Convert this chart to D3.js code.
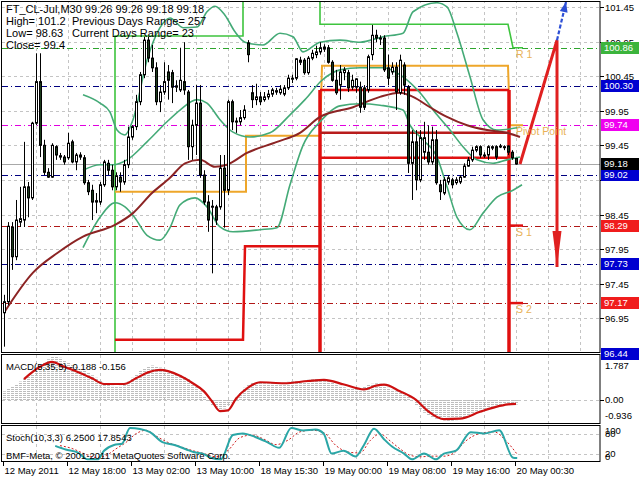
<!DOCTYPE html>
<html><head><meta charset="utf-8">
<script src="https://cdn.jsdelivr.net/npm/d3@7"></script>
<style>body{margin:0;background:#fff}svg{display:block;font-family:"Liberation Sans",Arial,sans-serif}</style>
</head><body><svg id="c" width="640" height="480"></svg>
<script>
// ---------- DATA ----------
const opens=[97.03,97.19,98.27,97.84,98.34,98.37,98.85,98.69,99.77,100.37,
99.45,99.06,98.99,99.43,99.28,99.28,99.27,99.50,99.21,99.28,
99.27,98.91,98.80,98.63,98.63,98.88,99.19,99.09,98.85,98.99,
98.92,99.17,99.57,99.72,100.08,100.47,100.97,100.71,100.57,100.08,
100.22,100.51,100.50,100.29,100.25,100.37,100.22,99.43,99.74,100.06,
99.02,98.63,98.56,98.56,98.56,99.12,98.80,100.08,99.79,99.79,
99.85,100.93,100.21,100.11,100.15,100.11,100.15,100.19,100.22,100.21,
100.19,100.28,100.41,100.42,100.65,100.68,100.50,100.71,100.76,100.80,
100.84,100.86,100.65,100.39,100.32,100.50,100.50,100.29,100.29,100.29,
100.28,100.25,100.76,101.04,101.00,101.00,100.57,100.51,100.58,100.21,
100.61,100.29,99.19,99.50,98.95,99.35,99.35,99.21,99.53,98.88,
98.76,98.92,98.95,98.91,98.92,98.99,99.15,99.24,99.38,99.43,
99.31,99.31,99.41,99.43,99.44,99.43,99.44,99.35,99.26];
const closes=[97.19,98.28,97.84,98.37,98.39,98.85,98.69,99.77,100.37,99.45,
99.06,98.99,99.45,99.31,99.30,99.21,99.48,99.21,99.31,99.31,
98.91,98.78,98.63,98.65,98.88,99.21,99.09,98.85,99.01,98.92,
99.17,99.57,99.72,100.08,100.47,100.97,100.71,100.57,100.08,100.22,
100.37,100.39,100.29,100.31,100.39,100.25,99.43,99.74,100.06,99.02,
98.63,98.37,98.57,98.37,99.12,98.80,100.08,99.79,99.80,99.85,
99.96,100.76,100.11,100.15,100.08,100.15,100.19,100.25,100.24,100.26,
100.28,100.42,100.42,100.70,100.68,100.50,100.71,100.78,100.80,100.86,
100.87,100.65,100.39,100.21,100.51,100.54,100.28,100.39,100.41,100.00,
100.00,100.73,101.04,101.00,101.00,100.54,100.42,100.58,100.22,100.68,
100.32,99.19,99.50,98.95,99.56,99.56,99.21,99.53,98.91,98.78,
98.95,98.98,98.88,98.95,98.99,99.15,99.24,99.38,99.43,99.31,
99.31,99.43,99.43,99.28,99.44,99.43,99.35,99.27,99.18];
const highs=[97.29,98.34,98.34,98.66,98.85,99.50,98.92,99.79,100.78,100.78,
99.53,99.12,99.48,99.45,99.34,99.31,99.63,99.53,99.34,99.35,
99.31,98.95,98.88,98.76,98.92,99.24,99.24,99.17,99.06,99.06,
99.24,99.72,99.74,100.18,100.51,101.02,101.02,100.90,100.65,100.32,
100.65,100.61,100.54,100.39,100.86,100.94,100.25,99.82,100.32,100.32,
99.09,98.73,98.66,98.59,99.31,99.31,100.11,100.11,99.85,99.96,
100.03,100.97,100.32,100.34,100.22,100.22,100.25,100.28,100.28,100.32,
100.32,100.47,100.47,100.71,100.73,100.71,100.74,100.83,100.89,100.94,
100.91,100.90,100.68,100.54,100.61,100.58,100.54,100.47,100.42,100.37,
100.32,100.76,101.19,101.12,101.04,101.04,100.76,100.65,100.65,100.76,
100.65,100.32,99.67,99.67,99.67,99.79,99.74,99.72,99.67,98.95,
98.99,99.02,98.98,98.99,99.02,99.19,99.28,99.43,99.45,99.45,
99.35,99.45,99.45,99.45,99.47,99.45,99.45,99.38,99.26];
const lows=[96.54,97.14,97.65,97.79,98.27,98.27,98.41,98.66,99.74,99.28,
99.02,98.98,98.98,99.24,99.24,99.17,99.24,99.19,99.09,99.24,
98.88,98.73,98.37,98.47,98.59,98.85,99.02,98.80,98.80,98.78,
98.88,99.12,99.53,99.67,100.03,100.42,100.65,100.51,100.03,99.93,
100.18,100.11,100.06,100.22,100.22,100.18,99.24,99.24,99.31,98.98,
98.59,98.20,97.60,98.30,98.52,98.26,98.73,99.67,99.63,99.74,
99.82,100.65,99.99,100.03,100.03,100.08,100.11,100.15,100.18,100.18,
100.16,100.25,100.35,100.39,100.61,100.47,100.47,100.68,100.71,100.76,
100.80,100.63,100.37,100.18,100.11,100.39,100.22,100.25,100.21,99.92,
99.96,100.21,100.68,100.94,100.90,100.51,100.32,100.47,99.96,100.18,
100.18,99.05,98.66,98.80,98.92,99.24,99.17,99.17,98.88,98.66,
98.73,98.88,98.83,98.88,98.89,98.98,99.14,99.21,99.35,99.27,
99.27,99.24,99.38,99.24,99.41,99.38,99.31,99.24,99.17];

// indicator lines as [bar index, price]
const maLine=[[0,97.03],[7.25,97.61],[13.25,97.89],[19.75,98.13],[27.75,98.30],[32.25,98.47],[37,98.76],[41.5,98.98],[45.25,99.19],[49,99.24],[52.75,99.14],[55.75,99.17],[60.75,99.34],[68.25,99.50],[74,99.63],[79,99.86],[87.25,100.00],[94,100.15],[99,100.21],[102.25,100.15],[106.5,100.00],[110.75,99.86],[115.75,99.74],[120.75,99.67],[125.75,99.63],[129,99.57]];
const bbUpper=[[19.75,100.18],[24,100.06],[26.5,99.93],[28.25,99.67],[30.25,99.6],[32.25,99.82],[35.75,100.68],[39,101.15],[41.5,101.29],[44.75,101.15],[48.25,101.16],[50.75,101.38],[52.75,101.46],[55.25,101.33],[57.75,101.09],[60.25,100.94],[64.75,100.90],[69,101.07],[72.25,101.02],[74.75,100.80],[79,100.94],[84,100.97],[89,100.94],[94.75,101.02],[99.75,101.07],[102.25,101.38],[108.25,101.51],[110.75,101.45],[113.25,101.07],[116.5,100.44],[119.75,99.82],[123.25,99.67],[129,99.71]];
const bbMiddle=[[19.75,99.09],[24,99.17],[27.25,99.17],[30.75,99.24],[35.75,99.50],[40.75,99.79],[44,99.96],[48.25,100.11],[50.75,100.06],[54,99.82],[57.25,99.64],[61.5,99.57],[66.5,99.63],[71.5,99.89],[75.25,100.11],[79.5,100.39],[84,100.54],[89,100.57],[94.75,100.57],[99.75,100.44],[104,100.21],[108.25,99.89],[111.5,99.67],[114.75,99.43],[118.25,99.24],[122.25,99.19],[125.75,99.24],[129,99.28]];
const bbLower=[[19.75,97.97],[24,98.41],[27.75,98.62],[30.25,98.56],[32.75,98.40],[35.75,98.15],[39,98.08],[41.5,98.26],[44,98.59],[47.75,98.69],[50.75,98.56],[54,98.27],[57.25,98.20],[64,98.23],[68.25,98.26],[71.5,98.88],[74.75,99.45],[79,99.79],[84,100.02],[89,100.05],[94,100.03],[99.75,99.96],[101.5,99.74],[104.75,99.53],[108.25,99.28],[110.75,98.85],[113.25,98.41],[116.5,98.23],[119.75,98.47],[123.25,98.70],[127.25,98.80],[129.5,98.88]];

// daily step lines [bar index, price]
const dayHighSteps=[[27.75,96.0],[27.75,101.03],[59.75,101.03],[59.75,101.9],[79,101.9],[79,101.2],[126,101.2],[127.25,100.86],[129.75,100.86]];
const pivotSteps=[[27.75,98.78],[60.5,98.78],[60.5,99.59],[79,99.59],[79.5,100.60],[126,100.60],[126.5,99.74],[129.75,99.74]];
const lowSteps=[[27.75,96.64],[59.75,96.64],[60.25,97.99],[79,97.99]];
const redVerticals=[[79,96.2,100.25],[126.25,100.25,96.2]];
const redHoriz=[[79,126.25,100.25],[79,126.25,99.63],[79,126.25,99.27],[126.5,129.75,98.29],[126.5,129.75,97.17]];

// projection arrows
const redProjection=[[129,99.18],[138.25,100.97],[138.25,97.69]];
const blueProjection=[[138.25,100.97],[140.5,101.52]];

// levels
const levelPrices=[100.86,100.30,99.74,99.02,98.29,97.73,97.17,96.44];
const currentPrice=99.18;
const priceTicks=[101.45,100.95,100.45,99.95,99.45,98.95,98.45,97.95,97.45,96.95];
const levelTexts=[["R 1",100.86],["Pivot Point",99.74],["S 1",98.29],["S 2",97.17]];

// MACD
const macdHist=[0.35,0.45,0.55,0.65,0.75,0.85,0.95,1.05,1.2,1.35,1.5,1.65,1.75,
1.78,1.72,1.6,1.5,1.42,1.35,1.28,1.2,
1.1,1.0,0.9,0.8,0.7,0.62,0.58,0.56,0.58,0.62,
0.75,0.9,1.05,1.18,1.3,1.37,1.4,1.38,1.32,1.25,
1.18,1.12,1.06,1.0,0.95,0.85,0.72,0.55,0.35,0.15,
-0.05,-0.2,-0.32,-0.38,-0.35,-0.25,-0.1,0.1,0.3,0.5,
0.65,0.7,0.7,0.7,0.68,0.68,0.7,0.7,0.72,0.72,
0.74,0.76,0.78,0.8,0.8,0.82,0.84,0.85,0.85,0.84,
0.8,0.74,0.66,0.58,0.52,0.48,0.46,0.46,0.48,0.55,
0.62,0.66,0.68,0.66,0.6,0.5,0.42,0.35,0.28,0.2,
0.12,0.0,-0.2,-0.38,-0.52,-0.62,-0.7,-0.76,-0.8,-0.82,
-0.84,-0.84,-0.82,-0.78,-0.72,-0.65,-0.57,-0.5,-0.43,-0.37,
-0.32,-0.28,-0.25,-0.22,-0.2,-0.19,-0.19,-0.188];
const macdSignal=[[5,0.85],[9,1.35],[12,1.55],[15,1.35],[19,1.1],[22,0.88],[25,0.65],[30,0.65],[33,0.88],[36,1.12],[39,1.22],[41,1.17],[44,0.98],[47,0.7],[50,0.35],[52,-0.05],[54,-0.45],[56,-0.42],[58,0.05],[61,0.5],[64,0.72],[70,0.68],[76,0.77],[80,0.82],[85,0.63],[90,0.43],[93,0.58],[95,0.62],[99,0.35],[103,0.0],[106,-0.45],[110,-0.78],[114,-0.76],[119,-0.48],[123,-0.28],[126,-0.18],[128,-0.156]];
const macdTicks=[1.787,0.00,-0.936];

// Stochastic
const stochMain=[[12.8,44],[15.4,33],[18.4,24],[20.9,2],[23.4,2],[25,29],[27.5,47],[29.5,51],[31.5,100],[34,97],[36.5,87],[39.6,56],[42.6,47],[45.6,33],[47.6,24],[49.7,20],[51.7,7],[54.2,2],[57.2,78],[59.7,83],[62.8,72],[65.8,56],[68.8,38],[71.8,100],[74.8,92],[77.9,95],[79.9,83],[81.9,20],[84.9,29],[87.9,11],[90,47],[92.5,98],[95,65],[97,42],[100,20],[102,2],[105,20],[108,2],[110,20],[113,29],[116.7,87],[120,83],[123.8,93],[127.3,7],[128.3,6.25]];
const stochSignal=[[14,45],[17,36],[20,20],[23,8],[25.5,14],[28,35],[30.5,55],[33,82],[35.5,93],[38,75],[41,55],[44,42],[47,30],[50,20],[53,10],[56,30],[59,70],[62,78],[65,65],[68,48],[71,62],[74,88],[77,93],[80,85],[83,45],[86,25],[89,22],[91.5,60],[94,82],[96.5,60],[99,35],[101.5,15],[104,10],[107,12],[110,12],[112.5,22],[115.5,60],[119,83],[122.5,88],[125.5,60],[128.3,17.85]];
const stochTicks=[100,80,20,0];

// time axis
const timeLabels=["12 May 2011","12 May 18:00","13 May 02:00","13 May 10:00","18 May 15:30","19 May 00:00","19 May 08:00","19 May 16:00","20 May 00:30"];
const timeIdx=[0,16,32,48,64,80,96,112,128];

const headerLines=[["FT_CL-Jul,M30  99.26 99.26 99.18 99.18",""],["High= 101.2","Previous Days Range= 257"],["Low= 98.63","Current Days Range= 23"],["Close= 99.4",""]];

// ---------- STYLES ----------
const levelLineColor=["#2ea52e","#000080","#e000e0","#000080","#b01818","#000080","#b01818","#000080"];
const levelBoxColor=["#3cb43c","#0000d0","#f000f0","#0000d0","#f01c1c","#0000d0","#f01c1c","#0000d0"];

// ---------- DRAW ----------
const svg=d3.select("#c");
const x=d3.scaleLinear().domain([0,1]).range([4,8]);
const y=d3.scaleLinear().domain([96.44,101.55]).range([353.6,0]);
const yM=d3.scaleLinear().domain([-0.936,1.787]).range([423,356]);
const yS=d3.scaleLinear().domain([0,100]).range([460,428]);
const R=600;

const defs=svg.append("defs");
[["cm",2,2,598,350],["cd",2,355,598,69],["cs",2,426,598,36]].forEach(c=>{
  defs.append("clipPath").attr("id",c[0]).append("rect").attr("x",c[1]).attr("y",c[2]).attr("width",c[3]).attr("height",c[4]);
});
const gm=svg.append("g").attr("clip-path","url(#cm)");
const gd=svg.append("g").attr("clip-path","url(#cd)");
const gs=svg.append("g").attr("clip-path","url(#cs)");

// grid main
const gridIdx=d3.range(8,150,8);
gm.selectAll(".vg").data(gridIdx).enter().append("line")
  .attr("x1",d=>x(d)+0.5).attr("x2",d=>x(d)+0.5).attr("y1",0).attr("y2",352)
  .attr("stroke","#c4c4c4").attr("stroke-dasharray","3,3");
gm.selectAll(".hg").data(priceTicks).enter().append("line")
  .attr("x1",2).attr("x2",R).attr("y1",d=>Math.round(y(d))+0.5).attr("y2",d=>Math.round(y(d))+0.5)
  .attr("stroke","#c4c4c4").attr("stroke-dasharray","3,3");

// level lines
gm.selectAll(".lv").data(levelPrices).enter().append("line")
  .attr("x1",2).attr("x2",R).attr("y1",d=>Math.round(y(d))+0.5).attr("y2",d=>Math.round(y(d))+0.5)
  .attr("stroke",(d,i)=>levelLineColor[i]).attr("stroke-dasharray","6,3,1,3");
gm.append("line").attr("x1",2).attr("x2",R).attr("y1",Math.round(y(currentPrice))+0.5).attr("y2",Math.round(y(currentPrice))+0.5).attr("stroke","#a8a8a8");

const lin=d3.line().x(d=>x(d[0])).y(d=>y(d[1]));
const smooth=d3.line().x(d=>x(d[0])).y(d=>y(d[1])).curve(d3.curveMonotoneX);

// step lines
gm.append("path").attr("d",lin(dayHighSteps)).attr("fill","none").attr("stroke","#3ec43e").attr("stroke-width",1.6);
gm.append("path").attr("d",lin(pivotSteps)).attr("fill","none").attr("stroke","#eea62a").attr("stroke-width",2);
gm.append("path").attr("d",lin(lowSteps)).attr("fill","none").attr("stroke","#e01010").attr("stroke-width",2.5);
redVerticals.forEach(v=>{
  gm.append("line").attr("x1",x(v[0])).attr("x2",x(v[0])).attr("y1",y(v[1])).attr("y2",y(v[2])).attr("stroke","#e01010").attr("stroke-width",3.5);
});
redHoriz.forEach((h,i)=>{
  gm.append("line").attr("x1",x(h[0])).attr("x2",x(h[1])).attr("y1",y(h[2])).attr("y2",y(h[2]))
   .attr("stroke",i===1?"#b81c1c":"#e01010").attr("stroke-width",2.5);
});

// bollinger + MA
[bbUpper,bbMiddle,bbLower].forEach(b=>{
  gm.append("path").attr("d",smooth(b)).attr("fill","none").attr("stroke","#44aa77").attr("stroke-width",1.6);
});
gm.append("path").attr("d",smooth(maLine)).attr("fill","none").attr("stroke","#8c2424").attr("stroke-width",2);

// candles
const idx=d3.range(opens.length);
const cg=gm.append("g");
cg.selectAll(".w").data(idx).enter().append("line")
  .attr("x1",i=>Math.round(x(i))+0.5).attr("x2",i=>Math.round(x(i))+0.5)
  .attr("y1",i=>y(highs[i])).attr("y2",i=>y(lows[i])).attr("stroke","#000");
cg.selectAll(".b").data(idx).enter().append("rect")
  .attr("x",i=>Math.round(x(i))-0.5).attr("width",2)
  .attr("y",i=>y(Math.max(opens[i],closes[i])))
  .attr("height",i=>Math.max(1,Math.abs(y(opens[i])-y(closes[i]))))
  .attr("fill",i=>closes[i]>=opens[i]?"#fff":"#1b3b1b").attr("stroke","#000").attr("stroke-width",1);

// projection arrows
function head(g,tip,from,len,half,color){
  const dx=tip[0]-from[0],dy=tip[1]-from[1],L=Math.hypot(dx,dy),ux=dx/L,uy=dy/L;
  const bx=tip[0]-ux*len,by=tip[1]-uy*len;
  g.append("path").attr("d",`M${tip[0]},${tip[1]}L${bx-uy*half},${by+ux*half}L${bx+uy*half},${by-ux*half}Z`).attr("fill",color);
}
gm.append("path").attr("d",lin(redProjection)).attr("fill","none").attr("stroke","#e02020").attr("stroke-width",3).attr("stroke-linejoin","miter");
{const p=redProjection.map(d=>[x(d[0]),y(d[1])]);head(gm,p[2],p[1],36,4.5,"#e02020");}
gm.append("path").attr("d",lin(blueProjection)).attr("fill","none").attr("stroke","#2d4fd6").attr("stroke-width",2.2).attr("stroke-dasharray","4,2");
{const p=blueProjection.map(d=>[x(d[0]),y(d[1])]);head(gm,p[1],p[0],10,4,"#2d4fd6");}

// level text labels
gm.selectAll(".lt").data(levelTexts).enter().append("text")
  .attr("x",x(128)).attr("y",d=>y(d[1])+10).text(d=>d[0])
  .attr("font-size",10.5).attr("fill","#e9b256");

// header texts
headerLines.forEach((l,i)=>{
  svg.append("text").attr("x",6).attr("y",13+i*12).text(l[0]).attr("font-size",11).attr("fill","#000");
  if(l[1]) svg.append("text").attr("x",72).attr("y",13+i*12).text(l[1]).attr("font-size",11).attr("fill","#000");
});

// ---- MACD ----
gd.selectAll(".vg").data(d3.range(8,150,16)).enter().append("line")
  .attr("x1",d=>x(d)+0.5).attr("x2",d=>x(d)+0.5).attr("y1",355).attr("y2",424)
  .attr("stroke","#c4c4c4").attr("stroke-dasharray","3,3");
gd.append("line").attr("x1",2).attr("x2",R).attr("y1",Math.round(yM(0))+0.5).attr("y2",Math.round(yM(0))+0.5).attr("stroke","#c4c4c4").attr("stroke-dasharray","3,3");
gd.selectAll(".h").data(idx).enter().append("line")
  .attr("x1",i=>Math.round(x(i))+0.5).attr("x2",i=>Math.round(x(i))+0.5)
  .attr("y1",yM(0)).attr("y2",i=>yM(macdHist[i]))
  .attr("stroke","#bdbdbd").attr("stroke-width",3).attr("stroke-dasharray","1,1");
gd.append("path").attr("d",d3.line().x(d=>x(d[0])).y(d=>yM(d[1])).curve(d3.curveMonotoneX)(macdSignal))
  .attr("fill","none").attr("stroke","#cc1010").attr("stroke-width",2.2);
svg.append("text").attr("x",6).attr("y",370).text("MACD(5,35,5) -0.188 -0.156").attr("font-size",9.5);

// ---- Stoch ----
gs.selectAll(".vg").data(d3.range(8,150,16)).enter().append("line")
  .attr("x1",d=>x(d)+0.5).attr("x2",d=>x(d)+0.5).attr("y1",426).attr("y2",462)
  .attr("stroke","#c4c4c4").attr("stroke-dasharray","3,3");
gs.selectAll(".sl").data([80,20]).enter().append("line")
  .attr("x1",2).attr("x2",R).attr("y1",d=>Math.round(yS(d))+0.5).attr("y2",d=>Math.round(yS(d))+0.5)
  .attr("stroke","#c4c4c4").attr("stroke-dasharray","3,3");
gs.append("path").attr("d",d3.line().x(d=>x(d[0])).y(d=>yS(d[1])).curve(d3.curveMonotoneX)(stochSignal))
  .attr("fill","none").attr("stroke","#d02020").attr("stroke-width",1).attr("stroke-dasharray","2,2");
gs.append("path").attr("d",d3.line().x(d=>x(d[0])).y(d=>yS(d[1])).curve(d3.curveMonotoneX)(stochMain))
  .attr("fill","none").attr("stroke","#2aa6a6").attr("stroke-width",2);
svg.append("text").attr("x",6).attr("y",441).text("Stoch(10,3,3) 6.2500 17.8543").attr("font-size",9.5);
svg.append("text").attr("x",6).attr("y",459).text("BMF-Meta, © 2001-2011 MetaQuotes Software Corp.").attr("font-size",9.5);

// ---- frames ----
[[1.5,1.5,598.5,351],[1.5,354.5,598.5,69],[1.5,425.5,598.5,36]].forEach(r=>{
  svg.append("rect").attr("x",r[0]).attr("y",r[1]).attr("width",r[2]).attr("height",r[3]).attr("fill","none").attr("stroke","#000");
});

// ---- right axis ----
const ax=svg.append("g").attr("font-size",9.5);
priceTicks.forEach(p=>{
  const yy=Math.round(y(p))+0.5;
  ax.append("line").attr("x1",R).attr("x2",R+4).attr("y1",yy).attr("y2",yy).attr("stroke","#000");
  // the 98.95 label is hidden behind the 99.02 marker in the reference
  if(Math.abs(p-98.95)>0.001) ax.append("text").attr("x",R+5).attr("y",yy).attr("dy","0.35em").text(p.toFixed(2));
});
const boxes=levelPrices.map((p,i)=>[p,levelBoxColor[i]]).concat([[currentPrice,"#000"]]);
boxes.forEach(b=>{
  const yy=Math.round(y(b[0]));
  ax.append("rect").attr("x",R+1).attr("y",yy-6).attr("width",38).attr("height",12).attr("fill",b[1]);
  ax.append("text").attr("x",R+4).attr("y",yy).attr("dy","0.36em").text(b[0].toFixed(2)).attr("fill","#fff");
});
macdTicks.forEach((v,i)=>{
  const yy=[366,400,416][i];
  ax.append("text").attr("x",R+5).attr("y",yy).attr("dy","0.35em").text(v.toFixed(v===0?2:3));
});
ax.append("line").attr("x1",R).attr("x2",R+4).attr("y1",Math.round(yM(0))+0.5).attr("y2",Math.round(yM(0))+0.5).attr("stroke","#000");
stochTicks.forEach(v=>{
  const yy=v===100?431:v===0?457:Math.round(yS(v));
  ax.append("text").attr("x",R+5).attr("y",yy).attr("dy","0.35em").text(v);
});

// time axis
const tx=svg.append("g").attr("font-size",9.5);
timeIdx.forEach((t,i)=>{
  const xx=Math.round(x(t))-0.5;
  tx.append("line").attr("x1",xx).attr("x2",xx).attr("y1",462).attr("y2",466).attr("stroke","#000");
  tx.append("text").attr("x",xx+1).attr("y",474).text(timeLabels[i]);
});
</script></body></html>
